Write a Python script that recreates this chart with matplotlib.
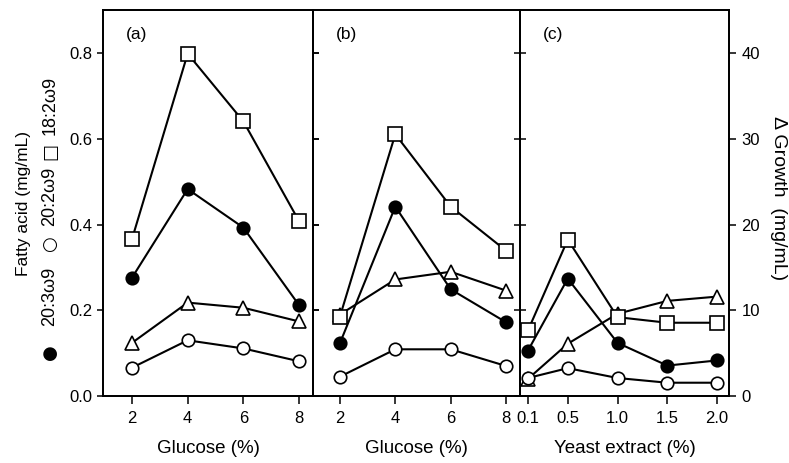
import matplotlib
matplotlib.use("Agg")
import matplotlib.pyplot as plt

plt.rcParams['font.family'] = ['Liberation Sans', 'DejaVu Sans']
plt.rcParams['font.size'] = 12

# ---- data ----
glucose = [2, 4, 6, 8]
yeast = [0.1, 0.5, 1.0, 1.5, 2.0]
yeast_labels = ["0.1", "0.5", "1.0", "1.5", "2.0"]

# panel (a): glucose, fatty acids (mg/mL), growth (mg/mL)
a_182 = [0.366, 0.799, 0.641, 0.408]
a_203 = [0.276, 0.483, 0.393, 0.212]
a_202 = [0.066, 0.130, 0.111, 0.081]
a_growth = [6.2, 10.9, 10.3, 8.7]

# panel (b)
b_182 = [0.185, 0.611, 0.442, 0.339]
b_203 = [0.123, 0.442, 0.249, 0.172]
b_202 = [0.045, 0.109, 0.109, 0.070]
b_growth = [9.5, 13.6, 14.5, 12.3]

# panel (c): yeast extract
c_182 = [0.153, 0.365, 0.184, 0.171, 0.171]
c_203 = [0.106, 0.274, 0.124, 0.071, 0.083]
c_202 = [0.042, 0.065, 0.042, 0.031, 0.031]
c_growth = [2.0, 6.1, 9.6, 11.1, 11.6]

left_ticks = [0.0, 0.2, 0.4, 0.6, 0.8]
left_ticklabels = ["0.0", "0.2", "0.4", "0.6", "0.8"]
right_ticks = [0, 10, 20, 30, 40]

# ---- figure ----
W, H = 789, 463
fig = plt.figure(figsize=(W / 100, H / 100), dpi=100)

def fx(px):
    return px / W

def fy(py):
    return 1 - py / H

bot = fy(396)
top = fy(10)
hgt = top - bot

edges = [103, 313, 520, 729]
axes = []
for i in range(3):
    ax = fig.add_axes([fx(edges[i]), bot, fx(edges[i + 1] - edges[i]), hgt])
    axes.append(ax)

YMAX = 0.901
GMAX = YMAX * 50

line_kw = dict(color='black', lw=1.5, markeredgecolor='black', markeredgewidth=1.2)

panels = [
    (axes[0], glucose, a_182, a_203, a_202, a_growth, (0.96, 8.5), "(a)", "Glucose (%)"),
    (axes[1], glucose, b_182, b_203, b_202, b_growth, (1.03, 8.5), "(b)", "Glucose (%)"),
    (axes[2], yeast, c_182, c_203, c_202, c_growth, (0.02, 2.12), "(c)", "Yeast extract (%)"),
]

for idx, (ax, x, s182, s203, s202, growth, xl, tag, xlabel) in enumerate(panels):
    ax.set_xlim(*xl)
    ax.set_ylim(0, YMAX)
    tw = ax.twinx()
    tw.set_ylim(0, GMAX)
    tw.set_xlim(*xl)

    tw.plot(x, growth, marker='^', ms=9.5, mfc='white', zorder=3, **line_kw)
    ax.plot(x, s202, marker='o', ms=9, mfc='white', zorder=3, **line_kw)
    ax.plot(x, s203, marker='o', ms=9, mfc='black', zorder=3, **line_kw)
    ax.plot(x, s182, marker='s', ms=9.5, mfc='white', zorder=3, **line_kw)

    for sp in list(ax.spines.values()) + list(tw.spines.values()):
        sp.set_linewidth(1.3)

    ax.set_xticks(x)
    if idx == 2:
        ax.set_xticklabels(yeast_labels)
    ax.tick_params(axis='x', direction='out', length=6, width=1.1, pad=5)
    ax.set_xlabel(xlabel, labelpad=10, fontsize=13.5)

    ax.set_yticks(left_ticks)
    if idx == 0:
        ax.set_yticklabels(left_ticklabels)
        ax.tick_params(axis='y', direction='out', length=4, width=1.1, left=True, right=True,
                       labelleft=True)
    else:
        ax.tick_params(axis='y', direction='in', length=4, width=1.1, left=True, right=(idx == 1),
                       labelleft=False)

    if idx == 2:
        tw.set_yticks(right_ticks)
        tw.tick_params(axis='y', direction='out', length=5, width=1.1, pad=4)
    else:
        tw.set_yticks([])
        tw.tick_params(axis='y', right=False, labelright=False)

    ax.text(0.11, 0.955, tag, transform=ax.transAxes, ha='left', va='top', fontsize=12.5)
    ax.set_zorder(tw.get_zorder() + 1)
    ax.patch.set_visible(False)

# left y label (two columns)
fig.text(fx(24), fy(204), "Fatty acid (mg/mL)", rotation=90, ha='center', va='center',
         fontsize=12.5)
label_pieces = [
    ("\u25CF", 352, ['DejaVu Sans'], 13),
    ("20:3\u03C99", 296, ['Liberation Sans', 'DejaVu Sans'], 13),
    ("\u25CB", 244, ['DejaVu Sans'], 13),
    ("20:2\u03C99", 196, ['Liberation Sans', 'DejaVu Sans'], 13),
    ("\u25A1", 152, ['DejaVu Sans'], 13),
    ("18:2\u03C99", 105, ['Liberation Sans', 'DejaVu Sans'], 13),
]
for txt, yc, fam, fs in label_pieces:
    fig.text(fx(50), fy(yc), txt, rotation=90, ha='center', va='center',
             fontsize=fs, family=fam)

fig.text(fx(778), fy(198), "\u0394 Growth  (mg/mL)", rotation=270, ha='center',
         va='center', fontsize=14)

fig.savefig("out.png", dpi=100)
